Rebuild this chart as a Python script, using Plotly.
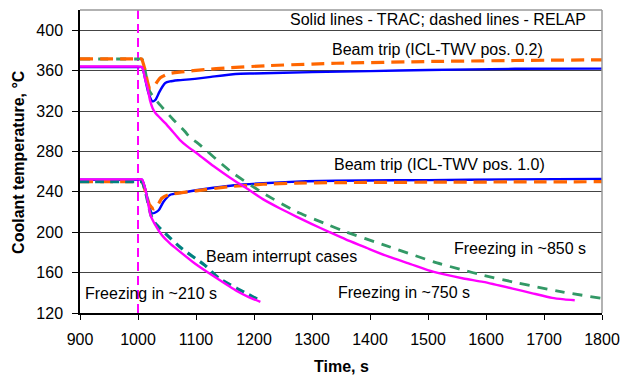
import plotly.graph_objects as go

# ---- data (time in s, coolant temperature in degC) ----
trip02_trac_t = [900, 1000, 1007, 1013, 1018, 1025, 1030, 1036, 1042, 1047, 1055, 1069, 1098, 1126, 1168, 1200, 1300, 1400, 1500, 1650, 1800]
trip02_trac_v = [363.5, 363.5, 363.5, 350, 338, 329.5, 331, 337.9, 344, 347.8, 349.3, 350.4, 351.8, 353.8, 356.7, 357.2, 358.5, 359.5, 360.6, 361.8, 362]

trip02_relap_t = [900, 1000, 1006, 1012, 1016, 1020, 1026, 1032, 1038, 1053, 1075, 1115, 1154, 1227, 1300, 1342, 1500, 1650, 1800]
trip02_relap_v = [371.6, 371.6, 371.6, 361, 350, 342.8, 343, 348, 352.7, 357, 358.7, 361, 362.7, 365, 366.5, 367.3, 369, 370, 370.7]

trip10_trac_t = [900, 1000, 1007, 1013, 1018, 1024, 1030, 1036, 1044, 1055, 1075, 1100, 1130, 1166, 1216, 1290, 1391, 1500, 1640, 1800]
trip10_trac_v = [252, 252, 252, 241.8, 228, 218.7, 219.5, 222, 230.2, 236.9, 239, 241.5, 244, 246.5, 248.5, 250.5, 251.2, 251.6, 252.3, 252.8]

trip10_relap_t = [900, 1000, 1007, 1013, 1020, 1027, 1033, 1036, 1041, 1052, 1100, 1160, 1216, 1273, 1341, 1500, 1800]
trip10_relap_v = [250, 250, 250, 240, 227, 223, 225, 228.6, 233.6, 237, 241, 245.2, 247.5, 248.5, 249.1, 249.5, 250]

int_hi_trac_t = [900, 1000, 1007, 1013, 1016, 1021, 1025, 1030, 1040, 1047, 1060, 1072, 1085, 1103, 1130, 1160, 1190, 1216, 1245, 1273, 1300, 1329, 1358, 1390, 1425, 1470, 1510, 1561, 1595, 1646, 1680, 1714, 1735, 1753]
int_hi_trac_v = [364, 364, 363.5, 350, 344, 330, 323, 318, 312, 308, 299.5, 291.5, 285, 277.5, 265.5, 253.5, 242.5, 232.5, 223.5, 215.5, 208, 200.4, 192.9, 185.5, 177.3, 168.5, 160.7, 154.2, 150.8, 144.2, 139.5, 135, 133.5, 132.6]

int_hi_relap_t = [900, 1000, 1007, 1012, 1019, 1024, 1038, 1061, 1081, 1089, 1103, 1160, 1216, 1273, 1329, 1358, 1425, 1510, 1561, 1595, 1646, 1731, 1800]
int_hi_relap_v = [371.5, 371.5, 371.5, 361, 341, 336, 326, 311.4, 299.7, 294, 288.2, 260, 238.6, 220.3, 207.1, 200.4, 187.2, 170.6, 162.4, 157.4, 150.8, 140.9, 134.5]

int_lo_trac_t = [900, 1000, 1007, 1013, 1017.5, 1021.5, 1030, 1041, 1055, 1069, 1098, 1132, 1171, 1190, 1211]
int_lo_trac_v = [252.3, 252.3, 252.3, 241.8, 228.6, 217, 207, 197.2, 189, 182.3, 169, 155.8, 141.5, 136, 131]

int_lo_relap_t = [900, 1000, 1007, 1013, 1018, 1023, 1030, 1047, 1075, 1115, 1140, 1171, 1190, 1208]
int_lo_relap_v = [250, 250, 250, 240, 227, 216, 208.6, 198.8, 184, 167.4, 154.2, 144.2, 138.5, 133]

trip_time = [1000, 1000]
trip_temp = [120, 420]

x_ticks = [900, 1000, 1100, 1200, 1300, 1400, 1500, 1600, 1700, 1800]
y_ticks = [120, 160, 200, 240, 280, 320, 360, 400]

BLUE = "#0000FF"
ORANGE = "#FF6600"
MAGENTA = "#FF00FF"
GREEN = "#339966"
TEAL = "#008080"
FONT = "Arial, 'Liberation Sans', sans-serif"

fig = go.Figure()

def add(t, v, color, width, dash="solid", shape="spline"):
    fig.add_trace(go.Scatter(x=t, y=v, mode="lines",
                             line=dict(color=color, width=width, dash=dash, shape=shape, smoothing=0.5),
                             hoverinfo="skip", showlegend=False))

add(trip_time, trip_temp, MAGENTA, 2, "9px,5px", "linear")
add(trip02_trac_t, trip02_trac_v, BLUE, 2.4)
add(trip10_trac_t, trip10_trac_v, BLUE, 2.4)
add(int_hi_relap_t, int_hi_relap_v, GREEN, 2.8, "10px,8px")
add(trip02_relap_t, trip02_relap_v, ORANGE, 3.2, "13px,7px")
add(trip10_relap_t, trip10_relap_v, ORANGE, 3.2, "13px,7px")
add(int_lo_relap_t, int_lo_relap_v, TEAL, 3.2, "9px,6px")
add(int_hi_trac_t, int_hi_trac_v, MAGENTA, 2.4)
add(int_lo_trac_t, int_lo_trac_v, MAGENTA, 2.4)

ann_font = dict(family=FONT, size=16, color="#000000")
notes = [
    (1775, 410.7, "Solid lines - TRAC; dashed lines - RELAP", "right"),
    (1517, 380.9, "Beam trip (ICL-TWV pos. 0.2)", "center"),
    (1519, 266.7, "Beam trip (ICL-TWV pos. 1.0)", "center"),
    (1113.6, 175.6, "Beam interrupt cases", "left"),
    (905.6, 139.3, "Freezing in ~210 s", "left"),
    (1775, 184, "Freezing in ~850 s", "right"),
    (1342, 139.9, "Freezing in ~750 s", "left"),
]
for x, y, txt, anc in notes:
    fig.add_annotation(x=x, y=y, xref="x", yref="y", text=txt, showarrow=False,
                       xanchor=anc, yanchor="middle", font=ann_font)

# axis titles
fig.add_annotation(x=-0.118, y=0.5, xref="paper", yref="paper", text="<b>Coolant temperature, °C</b>",
                   textangle=-90, showarrow=False, xanchor="center", yanchor="middle", font=ann_font)
fig.add_annotation(x=0.5, y=-0.176, xref="paper", yref="paper", text="<b>Time, s</b>",
                   showarrow=False, xanchor="center", yanchor="middle", font=ann_font)

# top and right plot-area border (gray)
fig.add_shape(type="line", xref="paper", yref="paper", x0=0, x1=1, y0=1, y1=1,
              line=dict(color="#999999", width=1.5))
fig.add_shape(type="line", xref="paper", yref="paper", x0=1, x1=1, y0=0, y1=1,
              line=dict(color="#999999", width=1.5))

fig.update_xaxes(range=[900, 1800], tickvals=x_ticks, ticktext=[str(v) for v in x_ticks],
                 showgrid=False, zeroline=False, showline=True, linecolor="#000000", linewidth=1.5,
                 ticks="outside", ticklen=5, tickcolor="#000000", tickwidth=1,
                 tickfont=dict(family=FONT, size=16, color="#000000"), ticklabelstandoff=6)
fig.update_yaxes(range=[120, 420], tickvals=y_ticks, ticktext=[str(v) for v in y_ticks],
                 showgrid=True, gridcolor="#444444", gridwidth=1, zeroline=False,
                 showline=True, linecolor="#000000", linewidth=1.5,
                 ticks="outside", ticklen=6, tickcolor="#000000", tickwidth=1,
                 tickfont=dict(family=FONT, size=16, color="#000000"), ticklabelstandoff=6)

fig.update_layout(width=630, height=375, margin=dict(l=80, r=19, t=10, b=62),
                  plot_bgcolor="#FFFFFF", paper_bgcolor="#FFFFFF", showlegend=False)

fig.write_html("out.html")
